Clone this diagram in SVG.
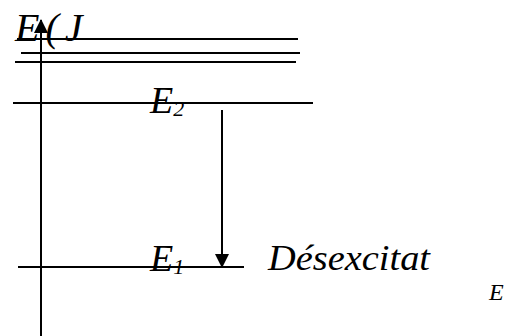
<svg xmlns="http://www.w3.org/2000/svg" width="526" height="336" viewBox="0 0 526 336">
<style>
.ln{stroke:#000;stroke-width:2;fill:none}
.t{font-family:"Liberation Serif",serif;font-style:italic;fill:#000}
</style>
<defs>
<marker id="ah" markerWidth="14" markerHeight="14" refX="13" refY="7" orient="auto" markerUnits="userSpaceOnUse">
<path d="M0,0 L14,7 L0,14 Z" fill="#000"/>
</marker>
</defs>
<rect width="526" height="336" fill="#fff"/>
<g id="levels">
<line class="ln" x1="17" y1="39" x2="298" y2="39"/>
<line class="ln" x1="21" y1="53" x2="300" y2="53"/>
<line class="ln" x1="15" y1="62" x2="296" y2="62"/>
<line class="ln" x1="13" y1="103" x2="313" y2="103"/>
<line class="ln" x1="18" y1="267" x2="244" y2="267"/>
</g>
<g id="connectors">
<line class="ln" x1="41" y1="336" x2="41" y2="20" marker-end="url(#ah)"/>
<line class="ln" x1="222" y1="110" x2="222" y2="267" marker-end="url(#ah)"/>
</g>
<g id="axis-label"><text class="t" x="15" y="41" font-size="40" letter-spacing="6">E(J</text></g>
<g id="E2"><text class="t" x="150" y="113" font-size="38">E<tspan font-size="22" dy="3">2</tspan></text></g>
<g id="E1"><text class="t" x="150" y="271" font-size="38">E<tspan font-size="22" dy="3">1</tspan></text></g>
<g id="desexcitat"><text class="t" x="268" y="270" font-size="36" textLength="162" lengthAdjust="spacingAndGlyphs">Désexcitat</text></g>
<g id="E-right"><text class="t" x="489" y="300" font-size="24">E</text></g>
</svg>
